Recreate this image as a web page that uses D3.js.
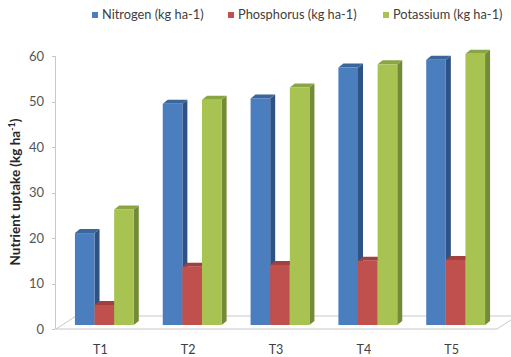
<!DOCTYPE html>
<html><head><meta charset="utf-8">
<script src="https://cdn.jsdelivr.net/npm/d3@7"></script>
<style>body{margin:0;background:#fff}svg{display:block}</style>
</head><body>
<svg id="chart" width="511" height="357"></svg>
<script>
const categories = ["T1", "T2", "T3", "T4", "T5"];
const seriesNames = ["Nitrogen (kg ha-1)", "Phosphorus (kg ha-1)", "Potassium (kg ha-1)"];
const nitrogen = [20.2, 48.6, 49.8, 56.6, 58.3];
const phosphorus = [4.4, 12.8, 13.2, 14.1, 14.3];
const potassium = [25.4, 49.5, 52.2, 57.3, 59.6];
const yTicks = [0, 10, 20, 30, 40, 50, 60];

const seriesValues = [nitrogen, phosphorus, potassium];
const frontColors = ["#4A7EBF", "#C0504D", "#A8C352"];
const sideColors = ["#2E5285", "#8A3533", "#738A36"];
const topColors = ["#3B6699", "#A2403D", "#8AA544"];

const svg = d3.select("#chart");
const font = "Lato, 'Open Sans', sans-serif";

const x = d3.scaleBand().domain(categories).range([56, 496]).paddingInner(0.33).paddingOuter(0.17);
const xs = d3.scaleBand().domain(d3.range(3)).range([0, x.bandwidth()]);
const y = d3.scaleLinear().domain([0, 60]).range([329, 56]);

// floor
const fdx = 20, fdy = -13;
const x0 = 56, x1 = 497;
svg.append("path")
  .attr("d", `M${x0},${y(0)}L${x1},${y(0)}L${x1+fdx},${y(0)+fdy}L${x0+fdx},${y(0)+fdy}Z`)
  .attr("fill", "#fff").attr("stroke", "#c8c8c8").attr("stroke-width", 1);

// y axis
svg.append("line").attr("x1", 55.5).attr("x2", 55.5).attr("y1", y(60)).attr("y2", y(0))
  .attr("stroke", "#c8c8c8");
svg.selectAll(".ytick").data(yTicks).enter().append("line")
  .attr("x1", 52).attr("x2", 55.5).attr("y1", d => Math.round(y(d)) + 0.5).attr("y2", d => Math.round(y(d)) + 0.5)
  .attr("stroke", "#c8c8c8");
svg.selectAll(".ylab").data(yTicks).enter().append("text")
  .attr("x", 44).attr("y", d => y(d)).attr("dy", "0.35em")
  .attr("text-anchor", "end").attr("font-family", font).attr("font-size", 13)
  .attr("fill", "#555").text(d => d);

// y title
const yt = svg.append("text")
  .attr("transform", "translate(20,192) rotate(-90)")
  .attr("text-anchor", "middle").attr("font-family", font).attr("font-size", 13.5)
  .attr("font-weight", "bold").attr("fill", "#262626");
yt.append("tspan").text("Nutrient uptake (kg ha");
yt.append("tspan").attr("font-size", 9).attr("dy", -5).text("-1");
yt.append("tspan").attr("dy", 5).text(")");

// bars
const offX = 4, offY = -4;   // bar front face position within floor depth
const bdx = 5, bdy = -4;     // bar depth
const g = svg.append("g");
categories.forEach((c, i) => {
  seriesValues.forEach((vals, s) => {
    const v = vals[i];
    const bx = x(c) + xs(s) + offX;
    const bw = xs.bandwidth();
    const yb = y(0) + offY, yt2 = y(v) + offY;
    g.append("path")
      .attr("d", `M${bx+bw},${yb}L${bx+bw+bdx},${yb+bdy}L${bx+bw+bdx},${yt2+bdy}L${bx+bw},${yt2}Z`)
      .attr("fill", sideColors[s]);
    g.append("path")
      .attr("d", `M${bx},${yt2}L${bx+bdx},${yt2+bdy}L${bx+bw+bdx},${yt2+bdy}L${bx+bw},${yt2}Z`)
      .attr("fill", topColors[s]);
    g.append("rect").attr("x", bx).attr("y", yt2).attr("width", bw).attr("height", yb - yt2)
      .attr("fill", frontColors[s]);
  });
});

// x labels
svg.selectAll(".xlab").data(categories).enter().append("text")
  .attr("x", d => x(d) + x.bandwidth() / 2).attr("y", 350).attr("dy", "0.35em")
  .attr("text-anchor", "middle").attr("font-family", font).attr("font-size", 12.5)
  .attr("fill", "#404040").text(d => d);

// legend
const legX = [92, 228, 383];
seriesNames.forEach((n, s) => {
  svg.append("rect").attr("x", legX[s]).attr("y", 12).attr("width", 6).attr("height", 6).attr("fill", frontColors[s]);
  svg.append("text").attr("x", legX[s] + 10).attr("y", 15).attr("dy", "0.35em")
    .attr("font-family", font).attr("font-size", 12.8).attr("fill", "#404040").text(n);
});
</script>
</body></html>
